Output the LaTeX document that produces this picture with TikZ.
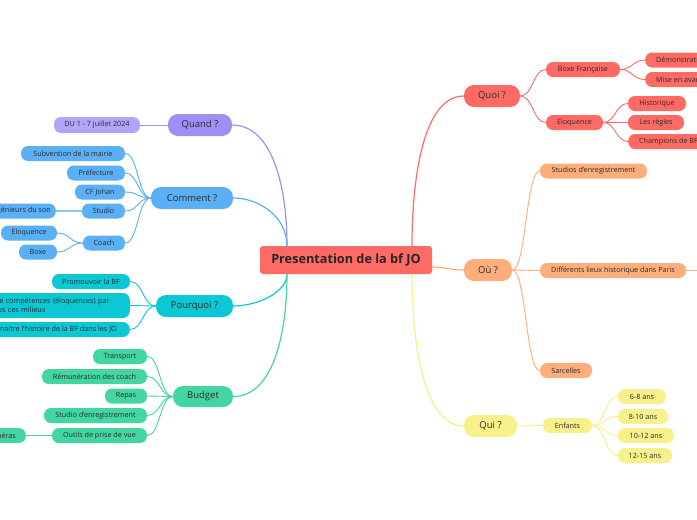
\documentclass[tikz,border=0pt]{standalone}
\usepackage{fontspec}
\setmainfont{Open Sans}
\usetikzlibrary{calc}
\definecolor{txt}{HTML}{2A2A2A}
\definecolor{redc}{HTML}{FF6B64}
\definecolor{lav}{HTML}{A08EF5}
\definecolor{lavl}{HTML}{B3A4F7}
\definecolor{blu}{HTML}{5AAFF5}
\definecolor{blul}{HTML}{8CC8F8}
\definecolor{teal}{HTML}{0CC8D4}
\definecolor{grn}{HTML}{43D6A1}
\definecolor{orng}{HTML}{FDAE7B}
\definecolor{yel}{HTML}{F7F08B}
\begin{document}
\begin{tikzpicture}[x=1pt,y=1pt,
  leaf/.style={rounded corners=7pt, inner sep=0pt, minimum height=15pt, font=\fontsize{7.2}{8.5}\selectfont, text=txt},
  leafe/.style={leaf, inner xsep=11pt},
  branch/.style={rounded corners=10pt, inner sep=0pt, minimum height=22pt, font=\fontsize{9.5}{11}\selectfont, text=txt},
  link/.style={line width=0.9pt},
  mainlink/.style={line width=1.2pt},
]
\useasboundingbox (0,0) rectangle (697,-520);
\fill[white] (0,0) rectangle (697,-520);

% central
\node[fill=redc, rounded corners=3pt, minimum width=172pt, minimum height=28pt, inner sep=0pt, text=black!85, font=\fontsize{12.7}{14}\selectfont\bfseries] (c) at (346,-260) {Presentation de la bf JO};
\coordinate (cTL) at (287,-246);
\coordinate (cBL) at (287,-274);
\coordinate (cTR) at (412,-246);
\coordinate (cBR) at (412,-274);
\coordinate (cR) at (432,-267);

% Quand
\node[branch, fill=lav, minimum width=64pt] (quand) at (200,-125) {Quand ?};
\node[leaf, fill=lavl, minimum width=86pt, minimum height=16pt] (du) at (97,-125) {DU 1 - 7 juillet 2024};

% Comment
\node[branch, fill=blu, minimum width=82pt] (comment) at (192,-198) {Comment ?};
\node[leaf, fill=blu, minimum width=104pt] (subv) at (73,-153.5) {Subvention de la mairie};
\node[leaf, fill=blu, minimum width=58pt] (pref) at (96,-173) {Préfecture};
\node[leaf, fill=blu, minimum width=50pt] (cf) at (100,-192) {CF Johan};
\node[leaf, fill=blu, minimum width=43pt] (studio) at (103.5,-211) {Studio};
\node[leaf, fill=blu, anchor=east, inner xsep=5pt] (inge) at (56,-211) {Ingénieurs du son};
\node[leaf, fill=blu, minimum width=42pt] (coach) at (104,-243) {Coach};
\node[leaf, fill=blu, minimum width=56pt] (eloq) at (29,-233) {Eloquence};
\node[leaf, fill=blu, minimum width=38pt] (boxe) at (38,-252) {Boxe};

% Pourquoi
\node[branch, fill=teal, minimum width=77pt] (pourquoi) at (194.5,-306) {Pourquoi ?};
\node[leaf, fill=teal, minimum width=78pt] (promo) at (91,-281.5) {Promouvoir la BF};
\node[leaf, fill=teal, anchor=east, inner xsep=14pt, minimum height=25pt, text width=162pt, align=left, font=\fontsize{7.2}{9.5}\selectfont] (comp) at (130,-305.5) {Développer de compétences (éloquences) par\\le biais de tous ces milieux};
\node[leaf, fill=teal, anchor=east, inner xsep=13pt] (faire) at (130,-329.5) {Faire connaitre l'histoire de la BF dans les JO};

% Budget
\node[branch, fill=grn, minimum width=60pt, minimum height=21pt] (budget) at (203,-396.5) {Budget};
\node[leaf, fill=grn, minimum width=54pt] (transp) at (120,-356.5) {Transport};
\node[leaf, fill=grn, minimum width=105pt] (remun) at (94.5,-376.5) {Rémunération des coach};
\node[leaf, fill=grn, minimum width=42pt] (repas) at (126,-396) {Repas};
\node[leaf, fill=grn, minimum width=103pt] (studioe) at (95.5,-415.5) {Studio d'enregistrement};
\node[leaf, fill=grn, minimum width=95pt] (outils) at (99.5,-435.5) {Outils de prise de vue};
\node[leaf, fill=grn, anchor=east, inner xsep=10pt] (cam) at (26,-435.5) {Caméras};

% Quoi
\node[branch, fill=redc, minimum width=56pt] (quoi) at (492,-96) {Quoi ?};
\node[leaf, fill=redc, minimum width=74pt] (boxef) at (583,-69.5) {Boxe Française};
\node[leafe, fill=redc, anchor=west] (demo) at (645,-60) {Démonstration};
\node[leafe, fill=redc, anchor=west] (mise) at (645,-79.5) {Mise en avant};
\node[leaf, fill=redc, minimum width=57pt] (eloqr) at (574.5,-122.5) {Eloquence};
\node[leaf, fill=redc, minimum width=58pt] (histo) at (657,-103.5) {Historique};
\node[leaf, fill=redc, minimum width=56pt] (regles) at (656,-122.5) {Les règles};
\node[leafe, fill=redc, anchor=west] (champ) at (628,-141.5) {Champions de BF};

% Ou
\node[branch, fill=orng, minimum width=48pt] (ou) at (488,-270) {Où ?};
\node[leaf, fill=orng, minimum width=107pt] (studios) at (593.5,-171) {Studios d'enregistrement};
\node[leaf, fill=orng, minimum width=146pt] (diff) at (613,-270.5) {Différents lieux historique dans Paris};
\node[leaf, fill=orng, minimum width=52pt] (sarc) at (566,-370.5) {Sarcelles};
\coordinate (offp) at (702,-270.5);

% Qui
\node[branch, fill=yel, minimum width=53pt] (qui) at (490.5,-426) {Qui ?};
\node[leaf, fill=yel, minimum width=49pt] (enf) at (567.5,-425.5) {Enfants};
\node[leaf, fill=yel, minimum width=48pt] (a1) at (642,-396.5) {6-8 ans};
\node[leaf, fill=yel, minimum width=50pt] (a2) at (643,-416.5) {8-10 ans};
\node[leaf, fill=yel, minimum width=56pt] (a3) at (646,-435.5) {10-12 ans};
\node[leaf, fill=yel, minimum width=54pt] (a4) at (645,-455.5) {12-15 ans};

% main connectors
\draw[mainlink, lav] (cTL) to[out=90, in=0, out distance=60pt, in distance=40pt] (quand.east);
\draw[mainlink, blu] (cTL) to[out=90, in=0, out distance=30pt, in distance=25pt] (comment.east);
\draw[mainlink, teal] (cBL) to[out=-90, in=0, out distance=18pt, in distance=25pt] (pourquoi.east);
\draw[mainlink, grn] (cBL) to[out=-90, in=0, out distance=60pt, in distance=40pt] (budget.east);
\draw[mainlink, redc] (cTR) to[out=90, in=180, out distance=70pt, in distance=40pt] (quoi.west);
\draw[mainlink, orng] (cR) to[out=0, in=180, distance=12pt] (ou.west);
\draw[mainlink, yel] (cBR) to[out=-90, in=180, out distance=70pt, in distance=40pt] (qui.west);

% sub connectors
\draw[link, lav] (quand.west) -- (du.east);
\foreach \n in {subv,pref,cf,studio,coach}
  \draw[link, blu] (comment.west) to[out=180, in=0, distance=13pt] (\n.east);
\draw[line width=1.6pt, blul] (studio.west) -- (inge.east);
\foreach \n in {eloq,boxe}
  \draw[link, blu] (coach.west) to[out=180, in=0, distance=13pt] (\n.east);
\foreach \n in {promo,comp,faire}
  \draw[link, teal] (pourquoi.west) to[out=180, in=0, distance=13pt] (\n.east);
\foreach \n in {transp,remun,repas,studioe,outils}
  \draw[link, grn] (budget.west) to[out=180, in=0, distance=13pt] (\n.east);
\draw[link, grn] (outils.west) -- (cam.east);
\foreach \n in {boxef,eloqr}
  \draw[link, redc] (quoi.east) to[out=0, in=180, distance=13pt] (\n.west);
\foreach \n in {demo,mise}
  \draw[link, redc] (boxef.east) to[out=0, in=180, distance=12pt] (\n.west);
\foreach \n in {histo,regles,champ}
  \draw[link, redc] (eloqr.east) to[out=0, in=180, distance=12pt] (\n.west);
\foreach \n in {studios,diff,sarc}
  \draw[link, orng] (ou.east) to[out=0, in=180, distance=14pt] (\n.west);
\draw[link, orng] (diff.east) -- (offp);
\draw[link, yel] (qui.east) -- (enf.west);
\foreach \n in {a1,a2,a3,a4}
  \draw[link, yel] (enf.east) to[out=0, in=180, distance=13pt] (\n.west);
\end{tikzpicture}
\end{document}
